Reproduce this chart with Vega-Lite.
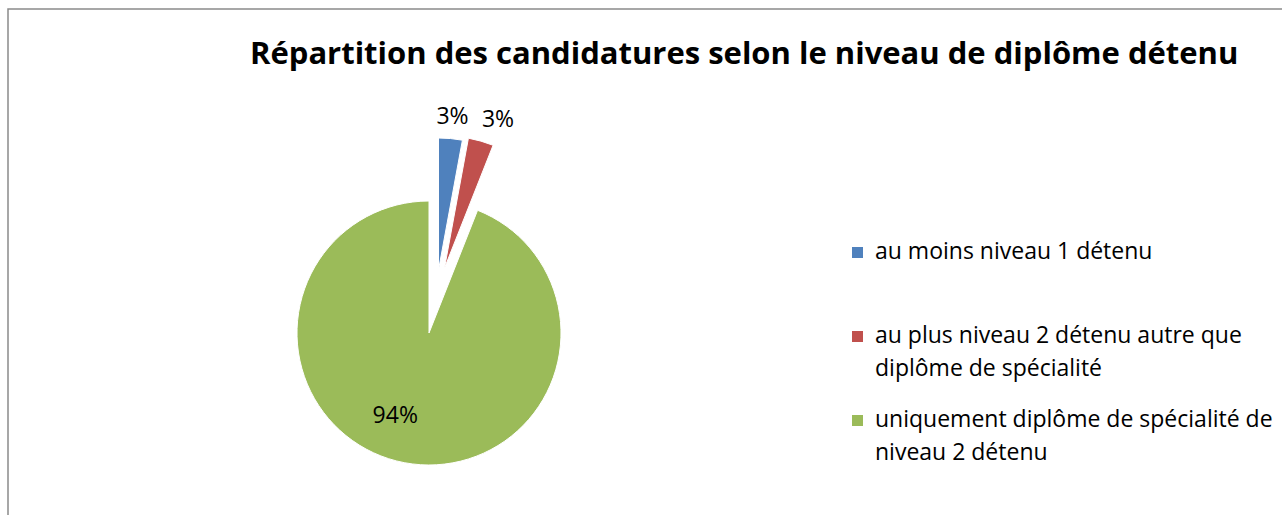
{
  "$schema": "https://vega.github.io/schema/vega-lite/v6.json",
  "width": 1330,
  "height": 530,
  "autosize": "none",
  "padding": {"left": 8, "top": 9, "right": 0, "bottom": 0},
  "background": "white",
  "view": {"stroke": "#8a8a8a", "strokeWidth": 1.5, "fill": "white"},
  "config": {"font": "Open Sans", "style": {"guide-label": {"lineHeight": 33, "dy": -12}}},
  "title": {
    "text": "Répartition des candidatures selon le niveau de diplôme détenu",
    "font": "Open Sans",
    "fontSize": 31,
    "fontWeight": "bold",
    "color": "#000000",
    "anchor": "start",
    "dx": 242,
    "dy": 86,
    "baseline": "alphabetic",
    "offset": 0
  },
  "data": {
    "values": [
      {"cat": "au moins  niveau 1 détenu", "pct": 0.029, "ord": 1},
      {"cat": "au plus niveau 2 détenu autre que diplôme de spécialité", "pct": 0.031, "ord": 2},
      {"cat": "uniquement diplôme de spécialité de niveau 2  détenu", "pct": 0.94, "ord": 3}
    ]
  },
  "encoding": {
    "theta": {"field": "pct", "type": "quantitative", "stack": true},
    "order": {"field": "ord", "type": "quantitative"},
    "color": {
      "field": "cat",
      "type": "nominal",
      "scale": {
        "domain": ["au moins  niveau 1 détenu", "au plus niveau 2 détenu autre que diplôme de spécialité", "uniquement diplôme de spécialité de niveau 2  détenu"],
        "range": ["#4F81BD", "#C0504D", "#9BBB59"]
      },
      "legend": {
        "orient": "none",
        "legendX": 838,
        "legendY": 232,
        "title": null,
        "symbolType": "square",
        "symbolSize": 121,
        "symbolStrokeWidth": 0,
        "labelFont": "Open Sans",
        "labelFontSize": 23,
        "labelColor": "#000000",
        "labelLimit": 0,
        "labelOffset": 6,
        "rowPadding": 27,
        "labelBaseline": "top",
        "labelExpr": "datum.value == 'au moins  niveau 1 détenu' ? ['au moins  niveau 1 détenu', ' '] : datum.value == 'au plus niveau 2 détenu autre que diplôme de spécialité' ? ['au plus niveau 2 détenu autre que', 'diplôme de spécialité'] : ['uniquement diplôme de spécialité de', 'niveau 2  détenu']"
      }
    }
  },
  "layer": [
    {
      "mark": {"type": "arc", "outerRadius": 132, "xOffset": -244, "yOffset": 59, "stroke": "white", "strokeWidth": 1},
      "encoding": {
        "opacity": {"condition": {"test": "datum.ord == 3", "value": 1}, "value": 0}
      }
    },
    {
      "mark": {"type": "arc", "outerRadius": 132, "xOffset": -234.5, "yOffset": -4, "stroke": "white", "strokeWidth": 1},
      "encoding": {
        "opacity": {"condition": {"test": "datum.ord == 1", "value": 1}, "value": 0}
      }
    },
    {
      "mark": {"type": "arc", "outerRadius": 132, "xOffset": -228.5, "yOffset": -6, "stroke": "white", "strokeWidth": 1},
      "encoding": {
        "opacity": {"condition": {"test": "datum.ord == 2", "value": 1}, "value": 0}
      }
    },
    {
      "mark": {"type": "text", "radius": 84, "xOffset": -244, "yOffset": 59, "dx": -18, "fontSize": 23, "font": "Open Sans", "align": "center", "baseline": "middle"},
      "encoding": {
        "color": {"value": "#000000"},
        "text": {"condition": {"test": "datum.ord == 3", "field": "pct", "type": "quantitative", "format": ".0%"}, "value": ""}
      }
    },
    {
      "mark": {"type": "text", "radius": 154, "xOffset": -234.5, "yOffset": -4, "fontSize": 23, "font": "Open Sans", "align": "center", "baseline": "middle"},
      "encoding": {
        "color": {"value": "#000000"},
        "text": {"condition": {"test": "datum.ord == 1", "field": "pct", "type": "quantitative", "format": ".0%"}, "value": ""}
      }
    },
    {
      "mark": {"type": "text", "radius": 154, "xOffset": -228.5, "yOffset": -6, "dx": 11, "fontSize": 23, "font": "Open Sans", "align": "center", "baseline": "middle"},
      "encoding": {
        "color": {"value": "#000000"},
        "text": {"condition": {"test": "datum.ord == 2", "field": "pct", "type": "quantitative", "format": ".0%"}, "value": ""}
      }
    }
  ]
}
